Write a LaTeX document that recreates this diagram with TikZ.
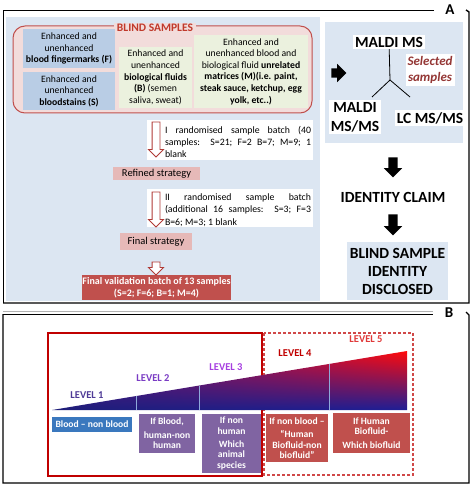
\documentclass[tikz,border=0pt]{standalone}
\usepackage{fontspec}
\setmainfont{Carlito}
\usepackage{tikz}
\usetikzlibrary{arrows.meta,shapes.arrows,shadings,positioning}
\definecolor{panelblue}{HTML}{DCE6F2}
\definecolor{blindpink}{HTML}{F2DCDB}
\definecolor{blindred}{HTML}{C0504D}
\definecolor{titlered}{HTML}{C0392B}
\definecolor{fingblue}{HTML}{B9CDE5}
\definecolor{fluidbeige}{HTML}{EBF1DE}
\definecolor{stratpink}{HTML}{E6B9B8}
\definecolor{validred}{HTML}{C0504D}
\definecolor{arrowred}{HTML}{B03A36}
\definecolor{selectred}{HTML}{943634}
\definecolor{solidred}{HTML}{C00000}
\definecolor{dashred}{HTML}{D04848}
\definecolor{bloodblue}{HTML}{3A78BE}
\definecolor{levelpurple}{HTML}{8064A2}
\definecolor{sepblue}{HTML}{8EA9DB}
\definecolor{lvone}{HTML}{4E3A96}
\definecolor{lvtwo}{HTML}{7A3CC4}
\definecolor{lvthree}{HTML}{A63FE0}
\definecolor{lvfour}{HTML}{C00000}
\definecolor{lvfive}{HTML}{E03A3A}
\definecolor{wedgenavy}{HTML}{1E1E78}
\definecolor{wedgeblue}{HTML}{1E1E96}
\definecolor{wedgepurple}{HTML}{5A1696}
\definecolor{wedgered}{HTML}{FF0A0A}

\begin{document}
\begin{tikzpicture}[x=1pt, y=-1pt,
    every node/.style={inner sep=0pt, outer sep=0pt},
    sample/.style={align=center, font=\fontsize{9.7}{11.6}\selectfont},
    batch/.style={align=justify, text width=146pt, font=\fontsize{9.8}{12.4}\selectfont},
    strategy/.style={fill=stratpink, font=\fontsize{10.5}{12}\selectfont},
    hollow/.style={single arrow, draw=arrowred, fill=white, line width=0.9pt, shape border rotate=270, inner sep=3.5pt, single arrow head extend=3.5pt},
    blockarrow/.style={single arrow, fill=black, inner sep=4.5pt, single arrow head extend=4.5pt},
    ms/.style={fill=white, inner sep=2pt, align=center, font=\fontsize{15.5}{19}\selectfont\bfseries},
    level/.style={font=\fontsize{10.5}{11}\selectfont\bfseries},
    outcome/.style={align=center, text=white, font=\fontsize{9.6}{10.5}\selectfont\bfseries}]

    \useasboundingbox (0,0) rectangle (474,486);

    \draw[line width=0.8pt] (434,10) -- (3,10) -- (3,303);
    \draw[line width=1.4pt] (3,303) -- (469,303) -- (469,12) -- (466,10);
    \node[font=\fontsize{15}{15}\selectfont\bfseries] (tagA) at (450,10) {A};

    \fill[panelblue] (6,17) rectangle (320,301);
    \fill[panelblue] (325,22) rectangle (463,143);

    \node[draw=blindred, fill=blindpink, line width=1pt, rounded corners=12pt, minimum width=299, minimum height=87] (blind) at (162.5,69.5) {};
    \node[fill=blindpink, inner xsep=3pt, inner ysep=1pt, text=titlered, font=\fontsize{11.5}{13}\selectfont\bfseries] (blindtitle) at (155,28) {BLIND SAMPLES};

    \node[sample, fill=fingblue, minimum width=92, minimum height=39] (fing) at (69,48.5) {Enhanced and\\unenhanced\\\textbf{blood fingermarks (F)}};
    \node[sample, fill=fingblue, minimum width=92, minimum height=38] (stain) at (69,91) {Enhanced and\\unenhanced\\\textbf{bloodstains (S)}};
    \node[sample, fill=fluidbeige, minimum width=73, minimum height=61] (fluid) at (155.5,77.5) {Enhanced and\\unenhanced\\\textbf{biological fluids}\\\textbf{(B)} (semen\\saliva, sweat)};
    \node[sample, fill=fluidbeige, minimum width=114, minimum height=73] (matrix) at (251,71.5) {Enhanced and\\unenhanced blood and\\biological fluid \textbf{unrelated}\\\textbf{matrices (M)(i.e. paint,}\\\textbf{steak sauce, ketchup, egg}\\\textbf{yolk, etc..)}};

    \node[fill=white, minimum width=166, minimum height=40] (batchI) at (230,140) {};
    \node[batch] (batchItext) at (238,142) {I randomised sample batch (40\linebreak samples:\ \ S=21;\ F=2\ B=7;\ M=9;\ 1\linebreak blank};
    \node[hollow, minimum height=35] (arrI) at (156,137.5) {};
    \node[strategy, minimum width=87, minimum height=13] (refined) at (156.5,173.5) {Refined strategy};
    \node[fill=white, minimum width=166, minimum height=38] (batchII) at (230,208) {};
    \node[batch] (batchIItext) at (238,210) {II randomised sample batch\linebreak (additional 16 samples:\ \ S=3;\ F=3\linebreak B=6; M=3; 1 blank};
    \node[hollow, minimum height=35] (arrII) at (156,207.5) {};
    \node[strategy, minimum width=72, minimum height=17] (final) at (156,241.5) {Final strategy};
    \node[fill=validred, minimum width=147, minimum height=25, outcome, font=\fontsize{10}{12}\selectfont\bfseries] (valid) at (156.5,287.5) {Final validation batch of 13 samples\\(S=2; F=6; B=1; M=4)};
    \node[hollow, minimum height=13] (arrIII) at (156,266.5) {};

    \node[blockarrow, minimum height=15, inner sep=4.5pt, single arrow head extend=4.5pt] (toms) at (336.5,73) {};

    \node[ms] (maldi) at (389,42) {MALDI MS};
    \node[fill=white, inner sep=2pt, align=center, text=selectred, font=\fontsize{13}{16}\selectfont\bfseries\itshape] (selected) at (430,70) {Selected\\samples};
    \node[ms] (msms) at (355,117) {MALDI\\MS/MS};
    \node[ms] (lcms) at (430,118) {LC MS/MS};
    \coordinate (fork) at (390,80);
    \coordinate (forkL) at (372,97);
    \coordinate (forkR) at (410,97);
    \draw[line width=0.8pt] (maldi) -- (fork);
    \draw[line width=0.8pt] (fork) -- (forkL);
    \draw[line width=0.8pt] (fork) -- (forkR);

    \node[blockarrow, shape border rotate=270, minimum height=20] (toclaim) at (393,165) {};
    \node[font=\fontsize{15.5}{17}\selectfont\bfseries] (claim) at (393,197) {IDENTITY CLAIM};
    \node[blockarrow, shape border rotate=270, minimum height=21] (todisclosed) at (393,222.5) {};
    \node[fill=panelblue, minimum width=101, minimum height=58, align=center, font=\fontsize{15.5}{18}\selectfont\bfseries] (disclosed) at (397.5,271) {BLIND SAMPLE\\IDENTITY\\DISCLOSED};

    \draw[gray!60, line width=0.8pt] (3,311) -- (433,311);
    \draw[line width=0.9pt] (3,314) -- (433,314);
    \draw[line width=1.2pt] (466,312) -- (469,315) -- (469,483) -- (3,483) -- (3,314);
    \node[font=\fontsize{15}{15}\selectfont\bfseries] (tagB) at (449,313) {B};

    \draw[solidred, line width=1.6pt] (48,333) rectangle (262,476);
    \draw[dashred, line width=1.2pt, dash pattern=on 3pt off 2pt] (264,333) rectangle (413,475);

    \shade[upper left=wedgepurple, upper right=wedgered, lower left=wedgenavy, lower right=wedgeblue] (52,410) -- (407,351) -- (407,410) -- cycle;
    \foreach \sx in {136,199,329}
        \draw[sepblue, line width=1pt] (\sx,{410-(\sx-52)*59/355}) -- (\sx,410);

    \node[level, text=lvone] (lv1) at (87,395) {LEVEL 1};
    \node[level, text=lvtwo] (lv2) at (153,378) {LEVEL 2};
    \node[level, text=lvthree] (lv3) at (226,367) {LEVEL 3};
    \node[level, text=lvfour] (lv4) at (295,353) {LEVEL 4};
    \node[level, text=lvfive] (lv5) at (366,339) {LEVEL 5};

    \node[outcome, fill=bloodblue, minimum width=80, minimum height=15] (blood) at (92,424.5) {Blood -- non blood};
    \node[outcome, fill=levelpurple, minimum width=56, minimum height=39] (human) at (167,433.5) {If Blood,\\[3pt]human-non\\human};
    \node[outcome, fill=levelpurple, minimum width=59, minimum height=59] (species) at (231.5,443.5) {If non\\human\\[2.5pt]Which\\animal\\species};
    \node[outcome, fill=validred, minimum width=62, minimum height=48] (biofluid) at (297,438) {If non blood --\\[3pt]“Human\\Biofluid-non\\biofluid”};
    \node[outcome, fill=validred, minimum width=77, minimum height=40] (which) at (371.5,433) {If Human\\Biofluid-\\[3pt]Which biofluid};

\end{tikzpicture}
\end{document}
